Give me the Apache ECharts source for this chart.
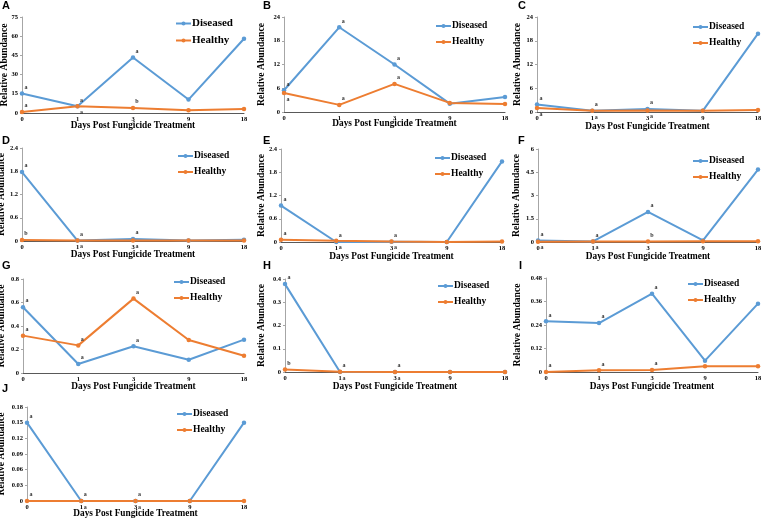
<!DOCTYPE html>
<html><head><meta charset="utf-8">
<script src="https://cdn.jsdelivr.net/npm/echarts/dist/echarts.min.js"></script>
<style>html,body{margin:0;padding:0;background:#fff}#c{width:761px;height:520px}</style>
</head><body><div id="c"></div><script>
// ---- data ----
const days = ['0', '1', '3', '9', '18'];
const seriesNames = ['Diseased', 'Healthy'];
const xTitle = 'Days Post Fungicide Treatment';
const yTitle = 'Relative Abundance';

const A_diseased = [15.3, 5.2, 43.3, 10.5, 58];
const A_healthy  = [0.8, 5.2, 3.9, 2.1, 3.1];
const A_dSig = ['a', 'a', 'a', '', ''];
const A_hSig = ['a', 'a', 'b', '', ''];
const A_yTicks = [0, 15, 30, 45, 60, 75];

const B_diseased = [5.5, 21.4, 12.0, 2.1, 3.8];
const B_healthy  = [4.8, 1.8, 7.1, 2.3, 2.0];
const B_dSig = ['a', 'a', 'a', '', ''];
const B_hSig = ['a', 'a', 'a', '', ''];
const B_yTicks = [0, 6, 12, 18, 24];

const C_diseased = [1.9, 0.3, 0.75, 0.3, 19.8];
const C_healthy  = [1.0, 0.3, 0.4, 0.3, 0.5];
const C_dSig = ['a', 'a', 'a', '', ''];
const C_hSig = ['a', 'a', 'a', '', ''];
const C_yTicks = [0, 6, 12, 18, 24];

const D_diseased = [1.78, 0.01, 0.05, 0.01, 0.03];
const D_healthy  = [0.025, 0.01, 0.01, 0.01, 0.01];
const D_dSig = ['a', 'a', 'a', '', ''];
const D_hSig = ['b', 'a', 'a', '', ''];
const D_yTicks = [0, 0.6, 1.2, 1.8, 2.4];

const E_diseased = [0.94, 0.0, 0.005, 0.0, 2.08];
const E_healthy  = [0.06, 0.03, 0.01, 0.0, 0.01];
const E_dSig = ['a', 'a', 'a', '', ''];
const E_hSig = ['a', 'a', 'a', '', ''];
const E_yTicks = [0, 0.6, 1.2, 1.8, 2.4];

const F_diseased = [0.1, 0.04, 1.94, 0.1, 4.67];
const F_healthy  = [0.02, 0.04, 0.04, 0.05, 0.05];
const F_dSig = ['a', 'a', 'a', '', ''];
const F_hSig = ['a', 'a', 'b', '', ''];
const F_yTicks = [0, 1.5, 3, 4.5, 6];

const G_diseased = [0.56, 0.077, 0.227, 0.113, 0.284];
const G_healthy  = [0.318, 0.235, 0.633, 0.281, 0.147];
const G_dSig = ['a', 'a', 'a', '', ''];
const G_hSig = ['a', 'a', 'a', '', ''];
const G_yTicks = [0, 0.2, 0.4, 0.6, 0.8];

const H_diseased = [0.378, 0.0, 0.0, 0.0, 0.0];
const H_healthy  = [0.011, 0.001, 0.0, 0.0, 0.0];
const H_dSig = ['a', 'a', 'a', '', ''];
const H_hSig = ['b', 'a', 'a', '', ''];
const H_yTicks = [0, 0.1, 0.2, 0.3, 0.4];

const I_diseased = [0.259, 0.250, 0.400, 0.058, 0.349];
const I_healthy  = [0.0, 0.0085, 0.01, 0.029, 0.029];
const I_dSig = ['a', 'a', 'a', '', ''];
const I_hSig = ['a', 'a', 'a', '', ''];
const I_yTicks = [0, 0.12, 0.24, 0.36, 0.48];

const J_diseased = [0.150, 0.0, 0.0, 0.0, 0.150];
const J_healthy  = [0.0, 0.0, 0.0, 0.0, 0.0];
const J_dSig = ['a', 'a', 'a', '', ''];
const J_hSig = ['a', 'a', 'a', '', ''];
const J_yTicks = [0, 0.03, 0.06, 0.09, 0.12, 0.15, 0.18];

const panels = [
  {letter: 'A', d: A_diseased, h: A_healthy, dSig: A_dSig, hSig: A_hSig, yTicks: A_yTicks},
  {letter: 'B', d: B_diseased, h: B_healthy, dSig: B_dSig, hSig: B_hSig, yTicks: B_yTicks},
  {letter: 'C', d: C_diseased, h: C_healthy, dSig: C_dSig, hSig: C_hSig, yTicks: C_yTicks},
  {letter: 'D', d: D_diseased, h: D_healthy, dSig: D_dSig, hSig: D_hSig, yTicks: D_yTicks},
  {letter: 'E', d: E_diseased, h: E_healthy, dSig: E_dSig, hSig: E_hSig, yTicks: E_yTicks},
  {letter: 'F', d: F_diseased, h: F_healthy, dSig: F_dSig, hSig: F_hSig, yTicks: F_yTicks},
  {letter: 'G', d: G_diseased, h: G_healthy, dSig: G_dSig, hSig: G_hSig, yTicks: G_yTicks},
  {letter: 'H', d: H_diseased, h: H_healthy, dSig: H_dSig, hSig: H_hSig, yTicks: H_yTicks},
  {letter: 'I', d: I_diseased, h: I_healthy, dSig: I_dSig, hSig: I_hSig, yTicks: I_yTicks},
  {letter: 'J', d: J_diseased, h: J_healthy, dSig: J_dSig, hSig: J_hSig, yTicks: J_yTicks}
];

// ---- layout (positions/sizes/styles) ----
const layout = [
  {grid: [22, 17, 222, 96],  legend: [175, 18],  letter: [2, 0],     yGap: 12, xGap: 8,  lf: 11},
  {grid: [284, 17, 221, 95], legend: [435, 21],  letter: [263, 0],   yGap: 17, xGap: 7,  lf: 9.5},
  {grid: [537, 17, 221, 95], legend: [692, 22],  letter: [518, 0],   yGap: 14, xGap: 10, lf: 9.5},
  {grid: [22, 148, 222, 93], legend: [177, 151], letter: [2, 135],   yGap: 15, xGap: 9,  lf: 9.5},
  {grid: [281, 149, 221, 93],legend: [434, 153], letter: [263, 135], yGap: 14, xGap: 10, lf: 9.5},
  {grid: [538, 149, 220, 93],legend: [692, 156], letter: [518, 135], yGap: 16, xGap: 10, lf: 9.5},
  {grid: [23, 279, 221, 94], legend: [173, 277], letter: [2, 260],   yGap: 16, xGap: 9,  lf: 9.5},
  {grid: [285, 279, 220, 93],legend: [437, 281], letter: [263, 260], yGap: 18, xGap: 10, lf: 9.5},
  {grid: [546, 278, 212, 94],legend: [687, 279], letter: [519, 260], yGap: 23, xGap: 10, lf: 9.5},
  {grid: [27, 407, 217, 94], legend: [176, 409], letter: [2, 383],   yGap: 20, xGap: 8,  lf: 9.5}
];

const BLUE = '#5B9BD5', ORANGE = '#ED7D31';
const SERIF = '"Liberation Serif","Times New Roman",serif';
const SANS = '"Liberation Sans",Arial,sans-serif';

const grids = [], xAxes = [], yAxes = [], series = [], legends = [], titles = [];

function sigLabel(text, pos) {
  return {show: !!text, formatter: text, position: pos, distance: 1, offset: [4, 0],
    fontSize: 6, fontFamily: SERIF, fontWeight: 'bold', color: '#333'};
}

panels.forEach((p, i) => {
  const L = layout[i];
  const yMax = p.yTicks[p.yTicks.length - 1];
  const step = p.yTicks[1] - p.yTicks[0];
  grids.push({left: L.grid[0], top: L.grid[1], width: L.grid[2], height: L.grid[3],
    containLabel: false, outerBoundsMode: 'none'});
  titles.push({text: p.letter, left: L.letter[0], top: L.letter[1], padding: 0,
    textStyle: {fontFamily: SANS, fontWeight: 'bold', fontSize: 11, color: '#000'}});
  xAxes.push({type: 'category', gridIndex: i, data: days, boundaryGap: false,
    name: xTitle, nameLocation: 'middle', nameGap: L.xGap, nameMoveOverlap: false,
    nameTextStyle: {fontFamily: SERIF, fontWeight: 'bold', fontSize: 9.3, color: '#000'},
    axisLine: {show: true, lineStyle: {color: '#595959', width: 1}},
    axisTick: {show: false},
    axisLabel: {fontFamily: SERIF, fontWeight: 'bold', fontSize: 6.5, color: '#000', margin: 3, interval: 0},
    splitLine: {show: false}});
  yAxes.push({type: 'value', gridIndex: i, min: 0, max: yMax, interval: step,
    name: yTitle, nameLocation: 'middle', nameGap: L.yGap, nameMoveOverlap: false,
    nameTextStyle: {fontFamily: SERIF, fontWeight: 'bold', fontSize: 9.6, color: '#000'},
    axisLine: {show: true, lineStyle: {color: '#a6a6a6', width: 1}},
    axisTick: {show: true, length: 2, lineStyle: {color: '#a6a6a6'}},
    axisLabel: {fontFamily: SERIF, fontWeight: 'bold', fontSize: 6.5, color: '#000', margin: 4,
      formatter: v => { let best = p.yTicks[0]; p.yTicks.forEach(t => { if (Math.abs(t - v) < Math.abs(best - v)) best = t; }); return String(best); }},
    splitLine: {show: false}});
  const dData = p.d.map((v, k) => ({value: v, label: sigLabel(p.dSig[k], 'top')}));
  const hData = p.h.map((v, k) => {
    const close = Math.abs(v - p.d[k]) / yMax < 0.05;
    return {value: v, label: sigLabel(p.hSig[k], close ? 'bottom' : 'top')};
  });
  const common = {type: 'line', xAxisIndex: i, yAxisIndex: i, symbol: 'circle', symbolSize: 4.5,
    animation: false, silent: true, z: 3};
  series.push(Object.assign({}, common, {name: seriesNames[0], data: dData,
    itemStyle: {color: BLUE}, lineStyle: {color: BLUE, width: 2}}));
  series.push(Object.assign({}, common, {name: seriesNames[1], data: hData,
    itemStyle: {color: ORANGE}, lineStyle: {color: ORANGE, width: 2}}));
  legends.push({data: seriesNames, orient: 'vertical', left: L.legend[0], top: L.legend[1],
    itemGap: 6, itemWidth: 15, itemHeight: 5, padding: 0, selectedMode: false,
    textStyle: {fontFamily: SERIF, fontWeight: 'bold', fontSize: L.lf, color: '#000', padding: [0, 0, 0, -4]}});
});

const chart = echarts.init(document.getElementById('c'), null, {renderer: 'canvas'});
chart.setOption({
  backgroundColor: '#fff',
  animation: false,
  title: titles,
  legend: legends,
  grid: grids,
  xAxis: xAxes,
  yAxis: yAxes,
  series: series
});
</script></body></html>
